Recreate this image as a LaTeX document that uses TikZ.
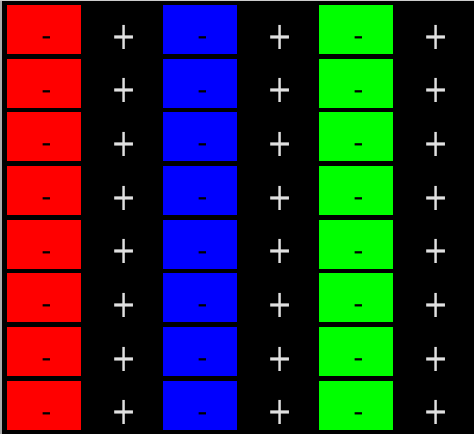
\documentclass[tikz,border=0pt]{standalone}
\usepackage{fontspec}
\setmainfont{DejaVu Sans}
\usetikzlibrary{positioning}
\definecolor{padred}{RGB}{255,0,0}
\definecolor{padblue}{RGB}{0,0,255}
\definecolor{padgreen}{RGB}{0,255,0}
\definecolor{plusgray}{RGB}{225,225,225}
\definecolor{edgegray}{RGB}{170,170,170}

\begin{document}
\begin{tikzpicture}[
  x=1pt,y=-1pt,
  pad/.style={draw=none,minimum width=74pt,minimum height=49pt,inner sep=0pt},
  minus/.style={font=\fontsize{28}{28}\selectfont,text=black,inner sep=0pt},
  plus/.style={font=\fontsize{30}{30}\selectfont,text=plusgray,inner sep=0pt}
]
  % Background and frame
  \useasboundingbox (0,0) rectangle (474,434);
  \fill[black] (0,0) rectangle (474,434);
  \draw[edgegray,line width=2pt] (1,0) -- (1,434);
  \draw[edgegray!60,line width=1pt] (0,0.5) -- (474,0.5);
  % Pads with minus, plus between columns
  \foreach \c/\col in {0/padred,1/padblue,2/padgreen}{
    \foreach \r in {0,...,7}{
      \node[pad,fill=\col] (pad-\c-\r) at (44+156*\c,29.5+53.67*\r) {};
      \node[minus,xshift=2.5pt,yshift=-11.5pt] (neg-\c-\r) at (pad-\c-\r.center) {-};
      \node[plus] (pos-\c-\r) at (124.5+156*\c,37+53.67*\r) {\scalebox{1}[1.28]{+}};
    }
  }
\end{tikzpicture}
\end{document}
